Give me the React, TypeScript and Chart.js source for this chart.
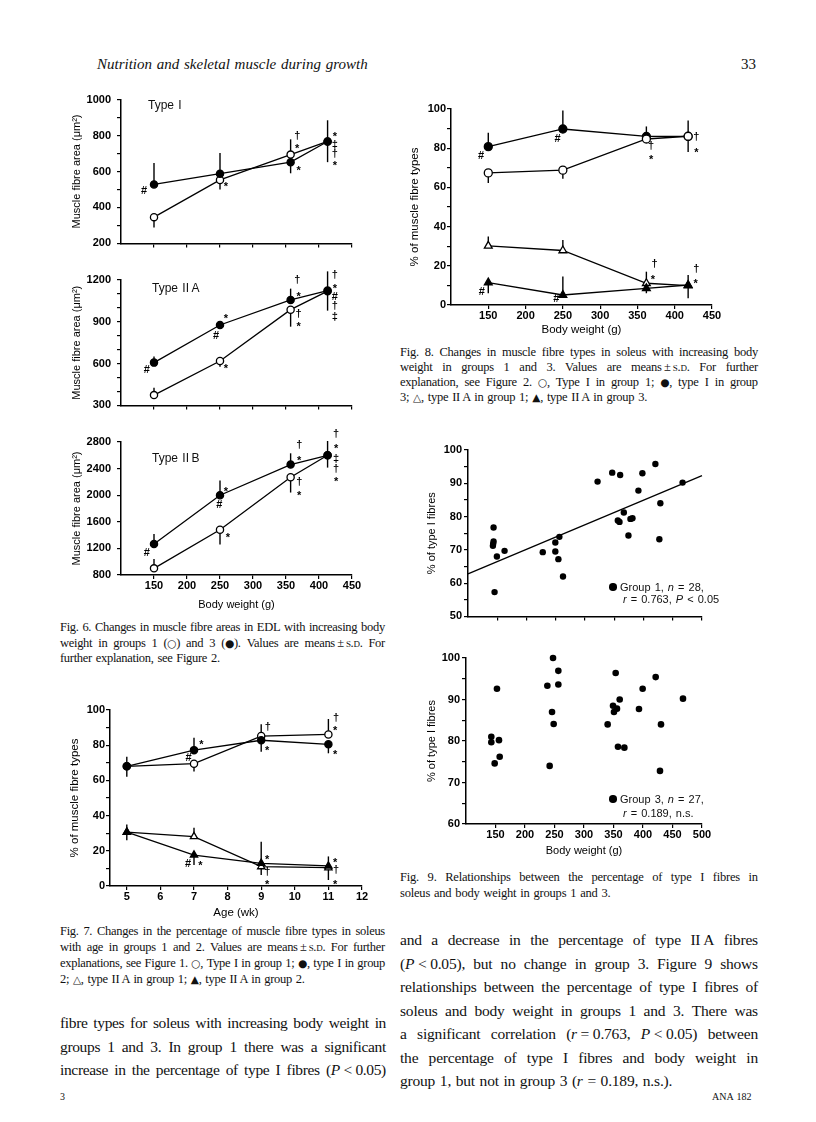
import React, { useEffect, useRef } from 'react';
import { Chart, registerables } from 'chart.js';

Chart.register(...registerables);

// ---------------- Fig. 6: EDL fibre areas vs body weight ----------------
const fig6Weight = [150, 250, 357, 413];
const fig6XTicks = [150, 200, 250, 300, 350, 400, 450];
const fig6XLabels = [150, 200, 250, 300, 350, 400, 450];

// Type I
const t1Group1 = [346, 553, 694, 767];
const t1Group1Lo = [288, 500, 694, 767];
const t1Group1Hi = [346, 553, 779, 767];
const t1Group3 = [528, 588, 652, 767];
const t1Group3Lo = [528, 588, 590, 652];
const t1Group3Hi = [647, 703, 652, 885];
const t1YTicks = [200, 300, 400, 500, 600, 700, 800, 900, 1000];
const t1YLabels = [200, 400, 600, 800, 1000];
const t1Marks = [
  [135, 493, '#'], [259, 532, '*'], [367, 797, '†'], [367, 740, '*'], [369, 620, '*'],
  [424, 809, '*'], [424, 747, '‡'], [424, 696, '†'], [424, 647, '*'],
];

// Type IIA
const t2aGroup1 = [374, 619, 987, 1120];
const t2aGroup1Lo = [374, 577, 865, 1120];
const t2aGroup1Hi = [427, 619, 987, 1120];
const t2aGroup3 = [607, 877, 1057, 1124];
const t2aGroup3Lo = [607, 877, 1057, 980];
const t2aGroup3Hi = [651, 877, 1138, 1262];
const t2aYTicks = [300, 400, 500, 600, 700, 800, 900, 1000, 1100, 1200];
const t2aYLabels = [300, 600, 900, 1200];
const t2aMarks = [
  [139, 554, '#'], [259, 939, '*'], [244, 800, '#'], [259, 584, '*'],
  [367, 1200, '†'], [369, 1101, '*'], [369, 958, '†'], [369, 881, '*'],
  [424, 1235, '†'], [424, 1154, '*'], [424, 1080, '#'], [424, 1015, '†'], [424, 935, '‡'],
];

// Type IIB
const t2bGroup1 = [900, 1480, 2270, 2600];
const t2bGroup1Lo = [900, 1260, 2040, 2600];
const t2bGroup1Hi = [1040, 1480, 2270, 2600];
const t2bGroup3 = [1265, 2000, 2460, 2600];
const t2bGroup3Lo = [1265, 2000, 2460, 2415];
const t2bGroup3Hi = [1415, 2220, 2630, 2815];
const t2bYTicks = [800, 1200, 1600, 2000, 2400, 2800];
const t2bYLabels = [800, 1200, 1600, 2000, 2400, 2800];
const t2bMarks = [
  [139, 1126, '#'], [259, 2101, '*'], [249, 1850, '#'], [262, 1400, '*'],
  [370, 2750, '†'], [370, 2560, '*'], [370, 2200, '†'], [370, 2035, '*'],
  [426, 2925, '†'], [426, 2735, '*'], [426, 2550, '‡'], [426, 2400, '†'], [426, 2250, '*'],
];

// ---------------- Fig. 7: soleus fibre types vs age ----------------
const fig7Age = [5, 7, 9, 11];
const fig7XTicks = [5, 6, 7, 8, 9, 10, 11, 12];
const fig7XLabels = [5, 6, 7, 8, 9, 10, 11, 12];
const fig7YTicks = [0, 10, 20, 30, 40, 50, 60, 70, 80, 90, 100];
const fig7YLabels = [0, 20, 40, 60, 80, 100];
const f7TypeIG1 = [68, 69.5, 85.2, 86.1];
const f7TypeIG1Lo = [68, 65, 85.2, 86.1];
const f7TypeIG1Hi = [68, 69.5, 91.9, 94.9];
const f7TypeIG2 = [68, 77.2, 82.8, 80.5];
const f7TypeIG2Lo = [62.1, 77.2, 76.3, 75.4];
const f7TypeIG2Hi = [73.5, 84.3, 82.8, 80.5];
const f7IIAG1 = [30.6, 28.1, 11.0, 10.4];
const f7IIAG1Lo = [30.6, 28.1, 6.3, 3.4];
const f7IIAG1Hi = [30.6, 33.1, 11.0, 10.4];
const f7IIAG2 = [30.6, 17.6, 12.9, 11.4];
const f7IIAG2Lo = [26, 11.9, 12.9, 11.4];
const f7IIAG2Hi = [35, 17.6, 25.2, 16.8];
const fig7Marks = [
  [7.22, 81.6, '*'], [6.84, 72.5, '#'], [9.2, 90.5, '†'], [9.18, 78.2, '*'],
  [11.23, 95.6, '†'], [11.2, 89.6, '*'], [11.2, 76.3, '*'],
  [6.82, 12.5, '#'], [7.19, 13.2, '*'], [9.18, 16.3, '*'], [9.18, 8.1, '†'], [9.18, 2.1, '*'],
  [11.2, 14.8, '*'], [11.23, 9.1, '†'], [11.2, 2.4, '*'],
];

// ---------------- Fig. 8: soleus fibre types vs body weight ----------------
const fig8Weight = [150, 250, 362, 418];
const fig8XTicks = [150, 200, 250, 300, 350, 400, 450];
const fig8XLabels = [150, 200, 250, 300, 350, 400, 450];
const fig8YTicks = [0, 10, 20, 30, 40, 50, 60, 70, 80, 90, 100];
const fig8YLabels = [0, 20, 40, 60, 80, 100];
const f8TypeIG1 = [67.4, 68.8, 84.7, 86.1];
const f8TypeIG1Lo = [62.2, 64.4, 84.7, 78];
const f8TypeIG1Hi = [67.4, 68.8, 84.7, 94.1];
const f8TypeIG3 = [80.8, 89.8, 86.0, 86.0];
const f8TypeIG3Lo = [80.8, 89.8, 86.0, 86.0];
const f8TypeIG3Hi = [87.9, 99.2, 91.1, 86.0];
const f8IIAG1 = [30.2, 27.8, 11.1, 9.9];
const f8IIAG1Lo = [30.2, 27.8, 11.1, 9.9];
const f8IIAG1Hi = [35, 33.2, 17, 9.9];
const f8IIAG3 = [11.4, 5.1, 8.5, 10.2];
const f8IIAG3Lo = [6, 5.1, 6, 3.4];
const f8IIAG3Hi = [11.4, 14.5, 8.5, 15.3];
const fig8Marks = [
  [140.3, 75.9, '#'], [242.9, 84.8, '#'], [368.4, 81.3, '†'], [368.4, 75.5, '*'],
  [428.9, 85.6, '†'], [428.9, 79.3, '*'], [372.9, 20.8, '†'], [370.6, 14.5, '*'],
  [428.9, 18.4, '†'], [428, 12.4, '*'], [141.2, 6.5, '#'], [241.1, 2.9, '#'],
];

// ---------------- Fig. 9: % type I fibres vs body weight ----------------
const fig9XTicks = [150, 200, 250, 300, 350, 400, 450, 500];
const fig9XLabels = [150, 200, 250, 300, 350, 400, 450, 500];
const fig9aYTicks = [50, 55, 60, 65, 70, 75, 80, 85, 90, 95, 100];
const fig9aYLabels = [50, 60, 70, 80, 90, 100];
const fig9bYTicks = [60, 65, 70, 75, 80, 85, 90, 95, 100];
const fig9bYLabels = [60, 70, 80, 90, 100];
const g1Weight = [143.7, 143.7, 143.0, 142.6, 149.4, 145.4, 162.5, 227.8, 249.3, 249.3, 256.2, 254.5, 262.4, 321.5,
  346.5, 360.1, 356.1, 359.0, 366.4, 374.3, 377.7, 381.1, 391.3, 398.1, 420.3, 428.8, 427.1, 466.8];
const g1TypeI = [76.7, 72.5, 71.8, 71.2, 68.0, 57.3, 69.7, 69.3, 72.2, 69.5, 73.9, 67.2, 62.0, 90.5,
  93.2, 92.5, 78.8, 78.4, 81.2, 74.3, 79.3, 79.5, 87.8, 93.0, 95.8, 84.0, 73.2, 90.2];
const g1RegX = [100, 500];
const g1RegY = [62.8, 92.3];
const g3Weight = [142.9, 142.9, 155.9, 152.5, 148.6, 157.1, 237.9, 247.5, 256.5, 256.5, 245.8, 248.6, 241.8,
  353.7, 349.2, 350.8, 355.9, 360.5, 340.1, 357.6, 368.4, 393.2, 399.4, 421.5, 430.5, 428.8, 467.8];
const g3TypeI = [81.0, 79.7, 80.2, 92.6, 74.6, 76.2, 93.3, 100, 96.9, 93.6, 87.0, 84.1, 74.0,
  96.4, 88.5, 87.0, 87.8, 90.0, 84.0, 78.6, 78.4, 87.7, 92.6, 95.4, 84.0, 72.8, 90.2];

// ---------------- helpers ----------------
const SANS = '"Liberation Sans", Arial, Helvetica, sans-serif';
const SERIF = '"Liberation Serif", "Times New Roman", Times, serif';
const SYM = '"DejaVu Sans", sans-serif';

const errorBarPlugin = {
  id: 'errbars',
  beforeDatasetsDraw(chart: any) {
    const { ctx, scales } = chart;
    const xs = scales.x, ys = scales.y;
    ctx.save();
    ctx.strokeStyle = '#000';
    ctx.lineWidth = 1.4;
    chart.data.datasets.forEach((ds: any) => {
      if (!ds.errLo) return;
      ds.data.forEach((p: any, i: number) => {
        const lo = ds.errLo[i], hi = ds.errHi[i];
        if (lo === hi) return;
        const px = xs.getPixelForValue(p.x);
        ctx.beginPath();
        ctx.moveTo(px, ys.getPixelForValue(lo));
        ctx.lineTo(px, ys.getPixelForValue(hi));
        ctx.stroke();
      });
    });
    ctx.restore();
  },
};

const marksPlugin = {
  id: 'marks',
  afterDatasetsDraw(chart: any, _a: any, opts: any) {
    const items = (opts && opts.items) || [];
    const { ctx, scales } = chart;
    ctx.save();
    ctx.fillStyle = '#000';
    ctx.font = `bold 11px ${SANS}`;
    ctx.textAlign = 'center';
    ctx.textBaseline = 'middle';
    items.forEach((it: any) => {
      const [vx, vy, t] = it;
      const px = scales.x.getPixelForValue(vx);
      const py = scales.y.getPixelForValue(vy) + (t === '*' ? 3 : 0);
      ctx.fillText(t, px, py);
    });
    ctx.restore();
  },
};

function series(xs: number[], ys: number[], lo: number[] | null, hi: number[] | null, kind: string, r: number) {
  const open = kind.startsWith('open');
  const tri = kind.endsWith('Tri');
  return {
    data: xs.map((x, i) => ({ x, y: ys[i] })),
    showLine: true,
    borderColor: '#000',
    borderWidth: 1.3,
    pointStyle: tri ? 'triangle' : 'circle',
    pointRadius: r,
    pointBackgroundColor: open ? '#fff' : '#000',
    pointBorderColor: '#000',
    pointBorderWidth: 1.3,
    clip: false,
    errLo: lo,
    errHi: hi,
  };
}

function dots(xs: number[], ys: number[], r: number) {
  return {
    data: xs.map((x, i) => ({ x, y: ys[i] })),
    showLine: false,
    pointStyle: 'circle',
    pointRadius: r,
    pointBackgroundColor: '#000',
    pointBorderColor: '#000',
    pointBorderWidth: 0,
    clip: false,
  };
}

function line(xs: number[], ys: number[]) {
  return {
    data: xs.map((x, i) => ({ x, y: ys[i] })),
    showLine: true,
    borderColor: '#000',
    borderWidth: 1.3,
    pointRadius: 0,
    clip: false,
  };
}

function buildConfig(s: any) {
  const tickFont = { family: SANS, size: 11, weight: 'bold' };
  const titleFont = { family: SANS, size: s.titleSize || 11 };
  const axisCommon = {
    grid: { drawOnChartArea: false, drawTicks: true, tickLength: 4, color: '#000', lineWidth: 1.2 },
    border: { display: true, color: '#000', width: 1.5 },
  };
  return {
    type: 'scatter',
    data: { datasets: s.datasets },
    options: {
      responsive: false,
      animation: false,
      events: [],
      layout: { padding: { top: s.padTop, right: s.padRight, left: 0, bottom: 0 } },
      plugins: { legend: { display: false }, tooltip: { enabled: false }, marks: { items: s.marks || [] } },
      scales: {
        x: {
          type: 'linear',
          position: 'bottom',
          min: s.x.min,
          max: s.x.max,
          afterBuildTicks: (sc: any) => { sc.ticks = s.x.ticks.map((v: number) => ({ value: v })); },
          afterFit: (sc: any) => { sc.height = s.xH; },
          ticks: {
            font: tickFont, color: '#000', padding: 0, maxRotation: 0, autoSkip: false,
            callback: (v: number) => (s.x.labels.includes(v) ? String(v) : ''),
          },
          ...axisCommon,
          title: s.xTitle
            ? { display: true, text: s.xTitle, font: titleFont, color: '#000', padding: 0 }
            : { display: false },
        },
        y: {
          type: 'linear',
          position: 'left',
          min: s.y.min,
          max: s.y.max,
          afterBuildTicks: (sc: any) => { sc.ticks = s.y.ticks.map((v: number) => ({ value: v })); },
          afterFit: (sc: any) => { sc.width = s.yW; },
          ticks: {
            font: tickFont, color: '#000', padding: s.yTickPad, autoSkip: false,
            callback: (v: number) => (s.y.labels.includes(v) ? String(v) : ''),
          },
          ...axisCommon,
          title: { display: true, text: s.yTitle, font: titleFont, color: '#000', padding: 0 },
        },
      },
    },
    plugins: [errorBarPlugin, marksPlugin],
  };
}

function Panel({ left, top, width, height, build }: any) {
  const ref = useRef<HTMLCanvasElement>(null);
  useEffect(() => {
    const chart = new Chart(ref.current as HTMLCanvasElement, build() as any);
    return () => chart.destroy();
  }, []);
  return (
    <canvas
      ref={ref}
      width={width}
      height={height}
      style={{ position: 'absolute', left, top, width, height }}
    />
  );
}

function rich(text: string) {
  const parts = text.split(/(\*[^*]+\*|s\.d\.|[○●△▲])/g).filter((p) => p !== '');
  return parts.map((p, i) => {
    if (p.length > 2 && p.startsWith('*') && p.endsWith('*')) return <i key={i}>{p.slice(1, -1)}</i>;
    if (p === 's.d.') return <span key={i} style={{ fontVariant: 'small-caps' }}>s.d.</span>;
    if ('○●△▲'.includes(p)) return <span key={i} style={{ fontFamily: SYM, fontSize: '0.85em' }}>{p}</span>;
    return <React.Fragment key={i}>{p}</React.Fragment>;
  });
}

function TextLine({ x, y, w, text, size, lh, justify, family, italic, ls }: any) {
  const style: any = {
    position: 'absolute', left: x, top: y - lh / 2, height: lh, lineHeight: lh + 'px',
    fontSize: size, fontFamily: family || SERIF, whiteSpace: 'nowrap', color: '#111',
    fontStyle: italic ? 'italic' : 'normal', letterSpacing: ls ? ls + 'px' : 'normal',
  };
  if (justify) {
    return (
      <div style={{ ...style, width: w, display: 'flex', justifyContent: 'space-between' }}>
        {text.split(' ').map((wd: string, i: number) => <span key={i}>{rich(wd)}</span>)}
      </div>
    );
  }
  return <div style={{ ...style, wordSpacing: '1px' }}>{rich(text)}</div>;
}

function Para({ x, w, ys, lines, size, lh, lastJustified, ls }: any) {
  return (
    <>
      {lines.map((t: string, i: number) => (
        <TextLine key={i} x={x} y={ys[i]} w={w} text={t} size={size} lh={lh} ls={ls}
          justify={i < lines.length - 1 || lastJustified} />
      ))}
    </>
  );
}

const fig6Caption = [
  'Fig. 6. Changes in muscle fibre areas in EDL with increasing body',
  'weight in groups 1 (○) and 3 (●). Values are means\u2009±\u2009s.d. For',
  'further explanation, see Figure 2.',
];
const fig7Caption = [
  'Fig. 7. Changes in the percentage of muscle fibre types in soleus',
  'with age in groups 1 and 2. Values are means\u2009±\u2009s.d. For further',
  'explanations, see Figure 1. ○, Type I in group 1; ●, type I in group',
  '2; △, type II\u2009A in group 1; ▲, type II\u2009A in group 2.',
];
const fig8Caption = [
  'Fig. 8. Changes in muscle fibre types in soleus with increasing body',
  'weight in groups 1 and 3. Values are means\u2009±\u2009s.d. For further',
  'explanation, see Figure 2. ○, Type I in group 1; ●, type I in group',
  '3; △, type II\u2009A in group 1; ▲, type II\u2009A in group 3.',
];
const fig9Caption = [
  'Fig. 9. Relationships between the percentage of type I fibres in',
  'soleus and body weight in groups 1 and 3.',
];
const leftBody = [
  'fibre types for soleus with increasing body weight in',
  'groups 1 and 3. In group 1 there was a significant',
  'increase in the percentage of type I fibres (*P*\u00a0<\u00a00.05)',
];
const rightBody = [
  'and a decrease in the percentage of type II\u2009A fibres',
  '(*P*\u00a0<\u00a00.05), but no change in group 3. Figure 9 shows',
  'relationships between the percentage of type I fibres of',
  'soleus and body weight in groups 1 and 3. There was',
  'a significant correlation (*r*\u00a0=\u00a00.763, *P*\u00a0<\u00a00.05) between',
  'the percentage of type I fibres and body weight in',
  'group 1, but not in group 3 (*r* = 0.189, n.s.).',
];

function Legend({ x, y1, y2, l1, l2 }: any) {
  return (
    <>
      <div style={{ position: 'absolute', left: x - 4, top: y1 - 4, width: 7.5, height: 7.5, borderRadius: '50%', background: '#000' }} />
      <TextLine x={x + 7} y={y1} text={l1} size={11} lh={14} family={SANS} />
      <TextLine x={x + 10} y={y2} text={l2} size={11} lh={14} family={SANS} />
    </>
  );
}

export default function App() {
  const fig6X = (labels: number[]) => ({ min: 100, max: 450, ticks: fig6XTicks, labels });
  return (
    <div style={{ position: 'absolute', left: 0, top: 0, width: 816, height: 1122, background: '#fff', overflow: 'hidden' }}>
      {/* header */}
      <TextLine x={97} y={64} text="Nutrition and skeletal muscle during growth" size={15} lh={18} italic />
      <TextLine x={741} y={64} text="33" size={15} lh={18} />

      {/* Fig 6 panels */}
      <Panel left={70} top={87} width={294} height={169} build={() => buildConfig({
        datasets: [
          series(fig6Weight, t1Group3, t1Group3Lo, t1Group3Hi, 'filledCircle', 3.6),
          series(fig6Weight, t1Group1, t1Group1Lo, t1Group1Hi, 'openCircle', 3.6),
        ],
        x: fig6X([]), y: { min: 200, max: 1000, ticks: t1YTicks, labels: t1YLabels },
        yTitle: 'Muscle fibre area (μm²)', yW: 51, xH: 8, padTop: 10, padRight: 12, yTickPad: 6, marks: t1Marks,
      })} />
      <Panel left={70} top={264} width={294} height={154} build={() => buildConfig({
        datasets: [
          series(fig6Weight, t2aGroup3, t2aGroup3Lo, t2aGroup3Hi, 'filledCircle', 3.6),
          series(fig6Weight, t2aGroup1, t2aGroup1Lo, t2aGroup1Hi, 'openCircle', 3.6),
        ],
        x: fig6X([]), y: { min: 300, max: 1200, ticks: t2aYTicks, labels: t2aYLabels },
        yTitle: 'Muscle fibre area (μm²)', yW: 51, xH: 8, padTop: 16, padRight: 12, yTickPad: 6, marks: t2aMarks,
      })} />
      <Panel left={70} top={424} width={294} height={188} build={() => buildConfig({
        datasets: [
          series(fig6Weight, t2bGroup3, t2bGroup3Lo, t2bGroup3Hi, 'filledCircle', 3.6),
          series(fig6Weight, t2bGroup1, t2bGroup1Lo, t2bGroup1Hi, 'openCircle', 3.6),
        ],
        x: fig6X(fig6XLabels), y: { min: 800, max: 2800, ticks: t2bYTicks, labels: t2bYLabels },
        yTitle: 'Muscle fibre area (μm²)', xTitle: 'Body weight (g)', yW: 51, xH: 37, padTop: 18, padRight: 12, yTickPad: 6, marks: t2bMarks,
      })} />
      <TextLine x={148} y={105} text="Type I" size={12} lh={14} family={SANS} />
      <TextLine x={152} y={288} text={'Type II\u2009A'} size={12} lh={14} family={SANS} />
      <TextLine x={152} y={458} text={'Type II\u2009B'} size={12} lh={14} family={SANS} />
      <Para x={60} w={325} ys={[627, 643, 658]} lines={fig6Caption} size={12.5} lh={15} ls={-0.3} />

      {/* Fig 7 */}
      <Panel left={68} top={700} width={306} height={220} build={() => buildConfig({
        datasets: [
          series(fig7Age, f7TypeIG2, f7TypeIG2Lo, f7TypeIG2Hi, 'filledCircle', 3.6),
          series(fig7Age, f7TypeIG1, f7TypeIG1Lo, f7TypeIG1Hi, 'openCircle', 3.6),
          series(fig7Age, f7IIAG2, f7IIAG2Lo, f7IIAG2Hi, 'filledTri', 4.2),
          series(fig7Age, f7IIAG1, f7IIAG1Lo, f7IIAG1Hi, 'openTri', 4.2),
        ],
        x: { min: 4.5, max: 12, ticks: fig7XTicks, labels: fig7XLabels },
        y: { min: 0, max: 100, ticks: fig7YTicks, labels: fig7YLabels },
        yTitle: '% of muscle fibre types', xTitle: 'Age (wk)', titleSize: 11.5,
        yW: 42, xH: 34, padTop: 10, padRight: 12, yTickPad: 1, marks: fig7Marks,
      })} />
      <Para x={60} w={325} ys={[931, 947, 963, 979]} lines={fig7Caption} size={12.5} lh={15} ls={-0.3} />
      <Para x={60} w={326} ys={[1023, 1047, 1070]} lines={leftBody} size={15.5} lh={20} ls={-0.35} lastJustified />

      {/* Fig 8 */}
      <Panel left={408} top={99} width={316} height={238} build={() => buildConfig({
        datasets: [
          series(fig8Weight, f8TypeIG1, f8TypeIG1Lo, f8TypeIG1Hi, 'openCircle', 4),
          series(fig8Weight, f8TypeIG3, f8TypeIG3Lo, f8TypeIG3Hi, 'filledCircle', 4),
          series(fig8Weight, f8IIAG3, f8IIAG3Lo, f8IIAG3Hi, 'filledTri', 4.5),
          series(fig8Weight, f8IIAG1, f8IIAG1Lo, f8IIAG1Hi, 'openTri', 4.5),
        ],
        x: { min: 100, max: 450, ticks: fig8XTicks, labels: fig8XLabels },
        y: { min: 0, max: 100, ticks: fig8YTicks, labels: fig8YLabels },
        yTitle: '% of muscle fibre types', xTitle: 'Body weight (g)', titleSize: 11.5,
        yW: 43, xH: 32, padTop: 10, padRight: 12, yTickPad: 1, marks: fig8Marks,
      })} />
      <Para x={400} w={358} ys={[352, 367, 382, 397]} lines={fig8Caption} size={12.5} lh={15} ls={-0.25} />

      {/* Fig 9 */}
      <Panel left={425} top={440} width={289} height={185} build={() => buildConfig({
        datasets: [dots(g1Weight, g1TypeI, 3.2), line(g1RegX, g1RegY)],
        x: { min: 100, max: 500, ticks: fig9XTicks, labels: [] },
        y: { min: 50, max: 100, ticks: fig9aYTicks, labels: fig9aYLabels },
        yTitle: '% of type I fibres', yW: 43, xH: 8, padTop: 10, padRight: 12, yTickPad: 2,
      })} />
      <Legend x={613} y1={587} y2={599} l1={'Group 1, *n* = 28,'} l2={'*r* = 0.763, *P* < 0.05'} />
      <Panel left={425} top={648} width={289} height={210} build={() => buildConfig({
        datasets: [dots(g3Weight, g3TypeI, 3.3)],
        x: { min: 100, max: 500, ticks: fig9XTicks, labels: fig9XLabels },
        y: { min: 60, max: 100, ticks: fig9bYTicks, labels: fig9bYLabels },
        yTitle: '% of type I fibres', xTitle: 'Body weight (g)', yW: 41, xH: 34, padTop: 10, padRight: 12, yTickPad: 2,
      })} />
      <Legend x={613} y1={799} y2={813} l1={'Group 3, *n* = 27,'} l2={'*r* = 0.189, n.s.'} />
      <Para x={400} w={358} ys={[877, 893]} lines={fig9Caption} size={12.5} lh={15} ls={-0.2} />
      <Para x={400} w={358} ys={[940, 964, 987, 1011, 1034, 1058, 1081]} lines={rightBody} size={15.5} lh={20} ls={-0.2} />

      {/* footer */}
      <TextLine x={60} y={1097} text="3" size={10} lh={12} />
      <TextLine x={712} y={1097} text="ANA 182" size={10} lh={12} />
    </div>
  );
}
